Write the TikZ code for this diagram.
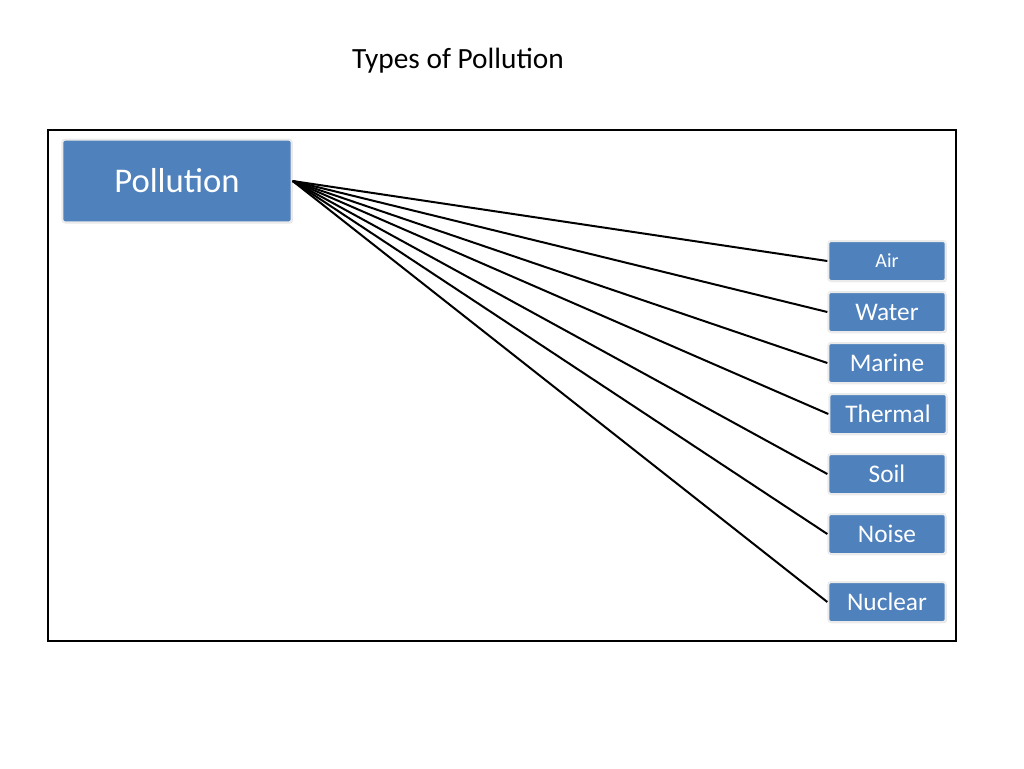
\documentclass[tikz,border=0pt]{standalone}
\usepackage{fontspec}
\setmainfont{Carlito}
\usetikzlibrary{shadows}
\definecolor{pblue}{HTML}{4F81BD}
\begin{document}
\begin{tikzpicture}[x=0.75pt,y=-0.75pt,
  box/.style={draw=white!92!black,line width=1.5pt,fill=pblue,rounded corners=2pt,text=white,inner sep=0pt,
    drop shadow={shadow xshift=0.8pt,shadow yshift=-0.8pt,opacity=0.3}},
  kid/.style={box,minimum width=88pt,minimum height=30pt,font=\fontsize{19}{22}\selectfont},
  conn/.style={line width=1.5pt}]
\useasboundingbox (0,0) rectangle (1024,768);
\node (title) at (458,61) {\fontsize{22}{26}\selectfont Types of Pollution};
\draw[line width=1pt] (48,130) rectangle (956,641);
\node[box,minimum width=172pt,minimum height=62pt,font=\fontsize{26}{30}\selectfont] (p) at (177,181) {Pollution};
\node[kid,font=\fontsize{15}{18}\selectfont] (air) at (887,261) {Air};
\node[kid] (water) at (887,312) {Water};
\node[kid] (marine) at (887,363) {Marine};
\node[kid] (thermal) at (888,414) {Thermal};
\node[kid] (soil) at (887,474) {Soil};
\node[kid] (noise) at (887,534) {Noise};
\node[kid] (nuclear) at (887,602) {Nuclear};
\foreach \n in {air,water,marine,thermal,soil,noise,nuclear}
  \draw[conn] (p.east) -- (\n.west);
\end{tikzpicture}
\end{document}
